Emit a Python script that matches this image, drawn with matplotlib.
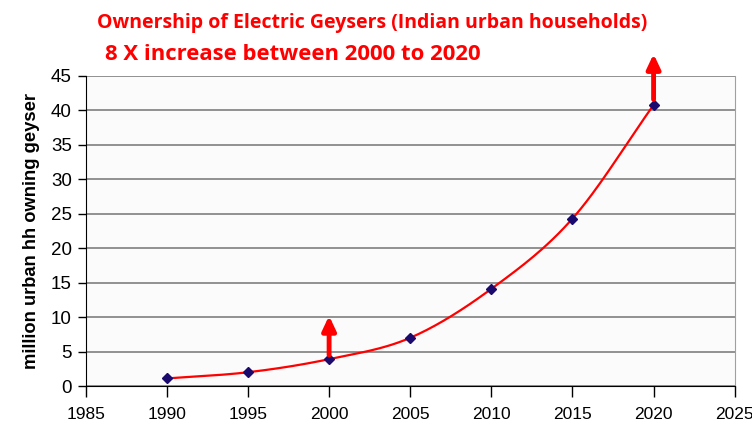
import matplotlib.pyplot as plt
import numpy as np

anos = [1990, 1995, 2000, 2005, 2010, 2015, 2020]
milhoes = [1.1, 2.0, 3.9, 7.0, 14.1, 24.3, 40.8]

# setas: (ano, inicio, fim)
setas = [(2000, 4.1, 10.6), (2020, 41.2, 48.6)]

titulo1 = 'Ownership of Electric Geysers (Indian urban households)'
titulo2 = '8 X increase between 2000 to 2020'


# curva suavizada tipo Excel (Catmull-Rom)
def suavizar(xs, ys, n=30):
    xs = np.asarray(xs, float)
    ys = np.asarray(ys, float)
    px = np.concatenate([[2 * xs[0] - xs[1]], xs, [2 * xs[-1] - xs[-2]]])
    py = np.concatenate([[2 * ys[0] - ys[1]], ys, [2 * ys[-1] - ys[-2]]])
    ox, oy = [], []
    t = np.linspace(0, 1, n)
    for i in range(1, len(px) - 2):
        for p, out in ((px, ox), (py, oy)):
            p0, p1, p2, p3 = p[i - 1], p[i], p[i + 1], p[i + 2]
            out.extend(0.5 * ((2 * p1) + (-p0 + p2) * t
                              + (2 * p0 - 5 * p1 + 4 * p2 - p3) * t ** 2
                              + (-p0 + 3 * p1 - 3 * p2 + p3) * t ** 3))
    return ox, oy


fig = plt.figure(figsize=(7.52, 4.33), dpi=100)
fig.patch.set_facecolor('white')
ax = fig.add_axes([0.114, 0.1085, 0.863, 0.716])
ax.set_facecolor('#fbfbfb')

sx, sy = suavizar(anos, milhoes)
ax.plot(sx, sy, color='#ff0000', lw=1.6, zorder=3)
ax.plot(anos, milhoes, 'D', color='#1a0a6e', markersize=5, zorder=4)

for ano, ini, fim in setas:
    ax.annotate('', xy=(ano, fim), xytext=(ano, ini),
                arrowprops=dict(arrowstyle='-|>,head_width=0.4,head_length=0.85',
                                color='#ff0000', lw=3.5),
                annotation_clip=False, zorder=5)

ax.set_xlim(1985, 2025)
ax.set_ylim(0, 45)
ax.set_xticks(range(1985, 2026, 5))
ax.set_yticks(range(0, 46, 5))
ax.yaxis.grid(True, color='#7f7f7f', lw=1.2)
ax.set_axisbelow(True)

ax.spines['top'].set_visible(False)
ax.spines['right'].set_color('#a0a0a0')
ax.spines['left'].set_color('black')
ax.spines['bottom'].set_color('black')
ax.tick_params(axis='x', labelsize=12.5, length=8, direction='out', width=1, pad=7)
ax.tick_params(axis='y', labelsize=13.5, length=6, direction='out', width=1, pad=4)
for lbl in ax.get_xticklabels() + ax.get_yticklabels():
    lbl.set_family('Liberation Sans')

ax.set_ylabel('million urban hh owning geyser', fontsize=13.2, fontweight='bold',
              family='Liberation Sans', labelpad=8)

fig.text(0.129, 0.948, titulo1, color='#ff0000', fontsize=14, fontweight='bold',
         family='Open Sans', va='center')
fig.text(0.139, 0.873, titulo2, color='#ff0000', fontsize=15.9, fontweight='bold',
         family='Open Sans', va='center')

fig.savefig('out.png', dpi=100)
